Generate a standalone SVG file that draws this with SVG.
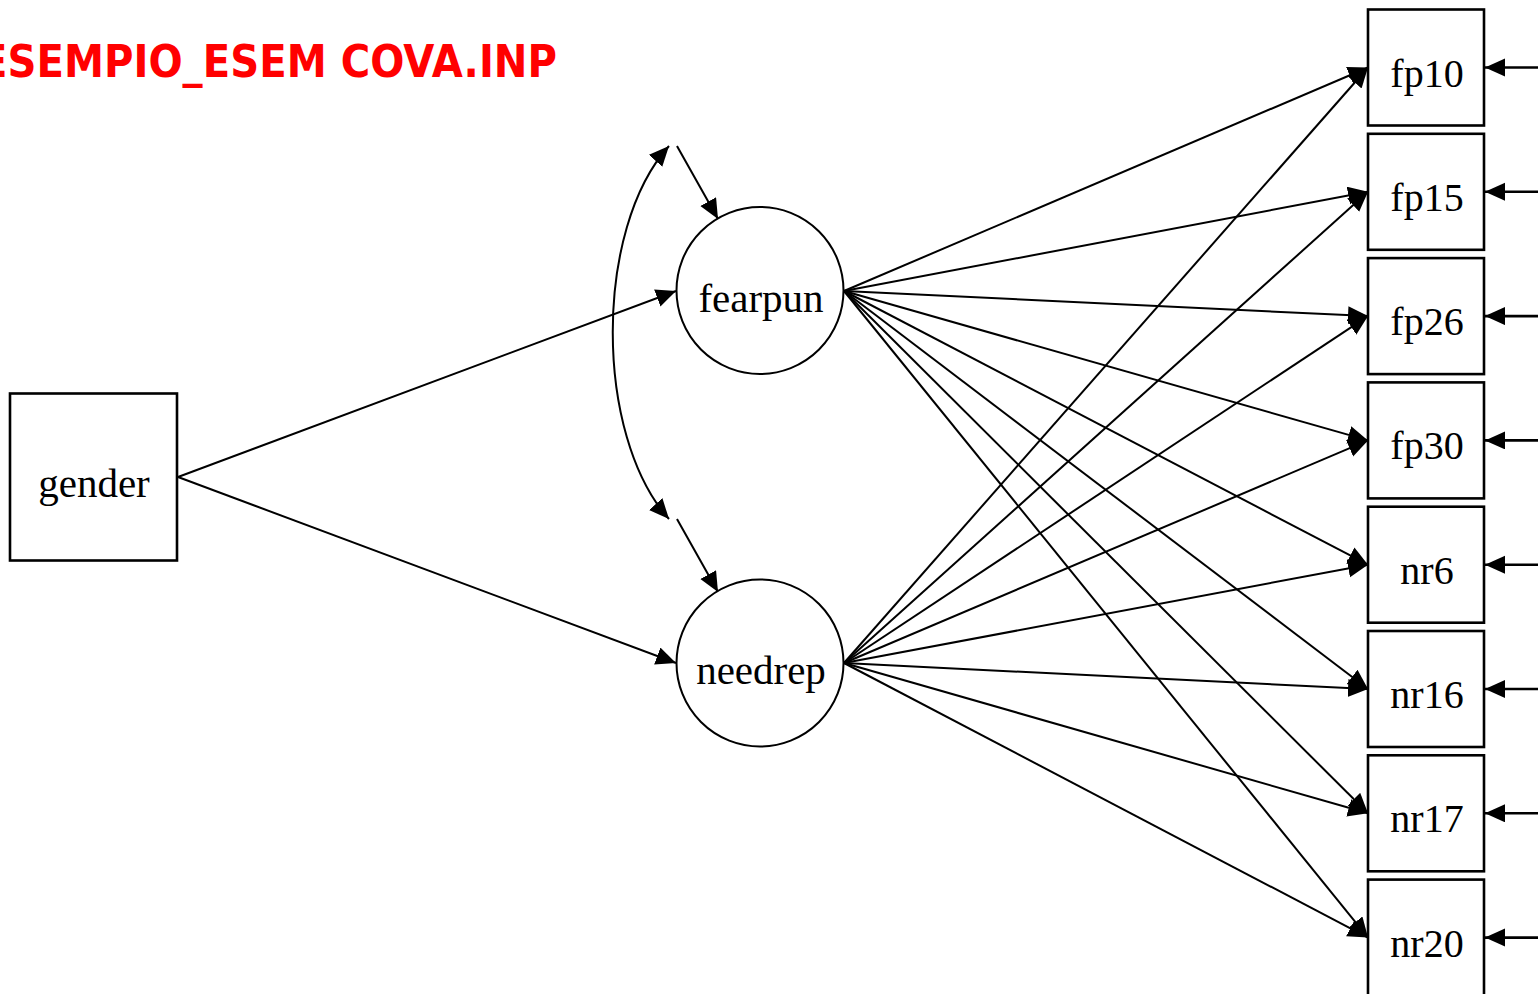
<svg xmlns="http://www.w3.org/2000/svg" width="1538" height="994" viewBox="0 0 1538 994">
<style>
.box{fill:#fff;stroke:#000;stroke-width:2.6}
.circ{fill:#fff;stroke:#000;stroke-width:2}
.lbl{font-family:"Liberation Serif","Times New Roman",serif;font-size:40px;fill:#000;text-anchor:middle}
.big{font-size:41px}
.edge{fill:none;stroke:#000;stroke-width:2;marker-end:url(#ah)}
.res{fill:none;stroke:#000;stroke-width:2.6;marker-end:url(#ah)}
.title{font-family:"DejaVu Sans",Verdana,sans-serif;font-weight:bold;font-size:45px;fill:#ff0000}
</style>
<defs>
<marker id="ah" markerUnits="userSpaceOnUse" markerWidth="22" markerHeight="20" refX="20" refY="9" orient="auto-start-reverse" viewBox="0 0 22 20">
<path d="M0,0 L20,9 L0,18 z" fill="#000"/>
</marker>
</defs>
<rect width="1538" height="994" fill="#fff"/>
<text class="title" x="-20" y="77" textLength="577" lengthAdjust="spacingAndGlyphs">ESEMPIO_ESEM COVA.INP</text>
<g id="connectors">
<path class="edge" d="M178,477 L676,291"/>
<path class="edge" d="M178,477 L676,663"/>
<path class="edge" d="M677,146 L718,219"/>
<path class="edge" d="M677,519 L718,592"/>
<path class="edge" style="marker-start:url(#ah)" d="M669,146 C594,229 594,435 669,519"/>
<path class="edge" d="M844,291 L1368,67.5"/>
<path class="edge" d="M844,291 L1368,191.8"/>
<path class="edge" d="M844,291 L1368,316.1"/>
<path class="edge" d="M844,291 L1368,440.4"/>
<path class="edge" d="M844,291 L1368,564.7"/>
<path class="edge" d="M844,291 L1368,689"/>
<path class="edge" d="M844,291 L1368,813.3"/>
<path class="edge" d="M844,291 L1368,937.6"/>
<path class="edge" d="M844,663 L1368,67.5"/>
<path class="edge" d="M844,663 L1368,191.8"/>
<path class="edge" d="M844,663 L1368,316.1"/>
<path class="edge" d="M844,663 L1368,440.4"/>
<path class="edge" d="M844,663 L1368,564.7"/>
<path class="edge" d="M844,663 L1368,689"/>
<path class="edge" d="M844,663 L1368,813.3"/>
<path class="edge" d="M844,663 L1368,937.6"/>
<path class="res" d="M1540,67.5 L1485,67.5"/>
<path class="res" d="M1540,191.8 L1485,191.8"/>
<path class="res" d="M1540,316.1 L1485,316.1"/>
<path class="res" d="M1540,440.4 L1485,440.4"/>
<path class="res" d="M1540,564.7 L1485,564.7"/>
<path class="res" d="M1540,689 L1485,689"/>
<path class="res" d="M1540,813.3 L1485,813.3"/>
<path class="res" d="M1540,937.6 L1485,937.6"/>
</g>
<g id="gender"><rect class="box" x="10" y="393.5" width="167" height="167"/><text class="lbl big" x="94" y="497">gender</text></g>
<g id="fearpun"><circle class="circ" cx="760" cy="290.5" r="83.5"/><text class="lbl big" x="761" y="311.5">fearpun</text></g>
<g id="needrep"><circle class="circ" cx="760" cy="663" r="83.5"/><text class="lbl big" x="761" y="684">needrep</text></g>
<g id="fp10"><rect class="box" x="1368" y="9.5" width="116" height="116"/><text class="lbl" x="1427" y="86.5">fp10</text></g>
<g id="fp15"><rect class="box" x="1368" y="133.8" width="116" height="116"/><text class="lbl" x="1427" y="210.8">fp15</text></g>
<g id="fp26"><rect class="box" x="1368" y="258.1" width="116" height="116"/><text class="lbl" x="1427" y="335.1">fp26</text></g>
<g id="fp30"><rect class="box" x="1368" y="382.4" width="116" height="116"/><text class="lbl" x="1427" y="459.4">fp30</text></g>
<g id="nr6"><rect class="box" x="1368" y="506.7" width="116" height="116"/><text class="lbl" x="1427" y="583.7">nr6</text></g>
<g id="nr16"><rect class="box" x="1368" y="631" width="116" height="116"/><text class="lbl" x="1427" y="708">nr16</text></g>
<g id="nr17"><rect class="box" x="1368" y="755.3" width="116" height="116"/><text class="lbl" x="1427" y="832.3">nr17</text></g>
<g id="nr20"><rect class="box" x="1368" y="879.6" width="116" height="116"/><text class="lbl" x="1427" y="956.6">nr20</text></g>
</svg>
